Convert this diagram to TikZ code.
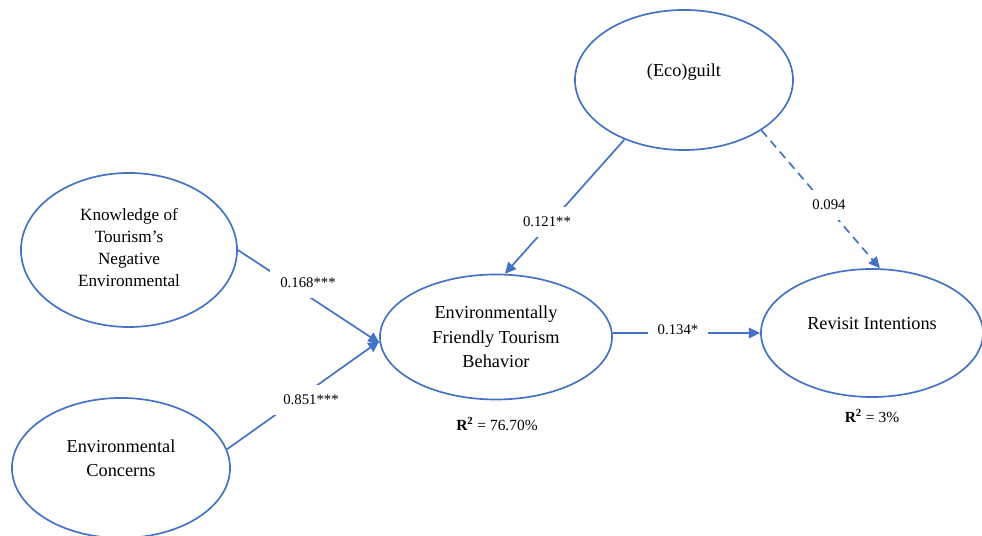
\documentclass[tikz,border=0pt]{standalone}
\usepackage{fontspec}
\setmainfont{Liberation Serif}
\usetikzlibrary{shapes.geometric, arrows.meta}
\definecolor{wordblue}{HTML}{4472C4}

\begin{document}
\begin{tikzpicture}[x = 0.025cm, y = 0.025cm, % one unit = one pixel
                > = {Triangle[length=8pt, width=7.5pt]}, % arrow head style
                line width = 1.2pt
            ]

            \tikzset{latent/.style = {ellipse, draw = wordblue, line width = 1.2pt,
            inner sep = 0pt},
            txt/.style = {align = center, font = \fontsize{13}{17.4}\selectfont},
            effect/.style = {draw = wordblue, ->},
            coef/.style = {fill = white, inner xsep = 7pt, inner ysep = 7pt,
            font = \fontsize{10.5}{12}\selectfont},
            rsq/.style = {font = \fontsize{11}{13}\selectfont}}

            \useasboundingbox (0,0) rectangle (982,536);
            \clip (0,0) rectangle (982,536);

            % constructs
            \node[latent, minimum width = 5.4cm, minimum height = 3.85cm,
            label = {[txt, font = \fontsize{12.2}{15.6}\selectfont, yshift = 2pt]
            center:{Knowledge of\\Tourism's\\Negative\\Environmental}}]
            (knowledge) at (129,286) {};
            \node[latent, minimum width = 5.45cm, minimum height = 3.5cm,
            label = {[txt, yshift = 7pt]center:{Environmental\\Concerns}}]
            (concerns) at (121,68) {};
            \node[latent, minimum width = 5.8cm, minimum height = 3.125cm,
            label = {[txt]center:{Environmentally\\Friendly Tourism\\Behavior}}]
            (eftb) at (496,199) {};
            \node[latent, minimum width = 5.45cm, minimum height = 3.5cm,
            label = {[txt, yshift = 5.7pt]center:(Eco)guilt}]
            (ecoguilt) at (684,456) {};
            \node[latent, minimum width = 5.55cm, minimum height = 3.2cm,
            label = {[txt, yshift = 7pt]center:Revisit Intentions}]
            (revisit) at (872,203) {};

            % paths
            \draw[effect] (knowledge.east) -- (eftb.183);
            \draw[effect] (concerns.10) -- (eftb.182);
            \draw[effect] (ecoguilt.225) -- (eftb.82);
            \draw[effect, dash pattern = on 6pt off 4pt] (ecoguilt.327) --
            (revisit.83);
            \draw[effect] (eftb.2) -- (revisit.west);

            % coefficients
            \node[coef] (c1) at (308,253) {0.168***};
            \node[coef] (c2) at (311,136) {0.851***};
            \node[coef] (c3) at (547,314) {0.121**};
            \node[coef] (c4) at (829,331) {0.094};
            \node[coef] (c5) at (678,206) {0.134*};

            \node[rsq] (r1) at (497,112) {\textbf{R\textsuperscript{2}} = 76.70\%};
            \node[rsq] (r2) at (872,120) {\textbf{R\textsuperscript{2}} = 3\%};
        \end{tikzpicture}
\end{document}
